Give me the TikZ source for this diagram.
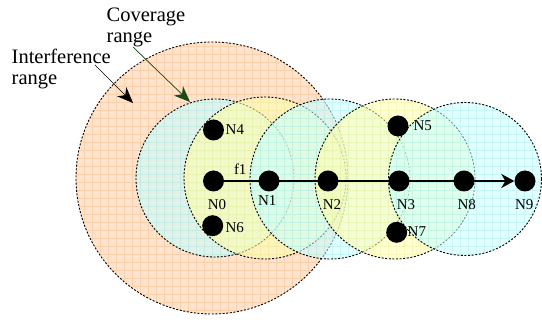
\documentclass[tikz,border=0pt]{standalone}
\usepackage{fontspec}
\setmainfont{Liberation Serif}
\usetikzlibrary{arrows.meta}
\definecolor{orangefill}{HTML}{FEE4CF}
\definecolor{orangegrid}{HTML}{FCD0AA}
\definecolor{cyanfill}{HTML}{CCFFFF}
\definecolor{cyangrid}{HTML}{A8F0F0}
\definecolor{yellowfill}{HTML}{FFFFB4}
\definecolor{yellowgrid}{HTML}{F0F098}
\definecolor{darkgreen}{HTML}{1A4A1A}
\newcommand\rangecirc[6]{%
  \fill[#3, fill opacity=#5] (#1) circle[radius=#2];
  \begin{scope}
    \clip (#1) circle[radius=#2];
    \draw[#4, line width=0.45pt, opacity=#6, step=8pt, xshift=4.3pt, yshift=-6.7pt] (-8,-8) grid (550,330);
  \end{scope}
  \draw[rangeborder] (#1) circle[radius=#2];
}
\begin{document}
\begin{tikzpicture}[x=1pt,y=-1pt,
  rangeborder/.style={draw=black, line width=0.9pt, dash pattern=on 2pt off 1.6pt},
  dot/.style={circle, fill=black, minimum size=21pt, inner sep=0pt},
  lab/.style={font=\fontsize{15}{15}\selectfont, inner sep=0pt},
  biglab/.style={font=\fontsize{20.5}{20.5}\selectfont, inner sep=0pt, align=left, anchor=north west},
  flow/.style={line width=2pt, -{Stealth[length=13pt,width=14pt,inset=4pt]}},
  pointer/.style={line width=0.7pt, -{Stealth[length=16pt,width=13pt,inset=5pt]}}
]
\useasboundingbox (0,0) rectangle (542,320);

% ranges
\coordinate (ci) at (212,178);
\coordinate (c0) at (215,178);
\coordinate (c1) at (265,178);
\coordinate (c2) at (330,179);
\coordinate (c3) at (395,179);
\coordinate (c8) at (465,179);
\rangecirc{ci}{136pt}{orangefill}{orangegrid}{1}{1}
\rangecirc{c0}{79pt}{cyanfill}{cyangrid}{0.55}{0.5}
\rangecirc{c1}{81pt}{yellowfill}{yellowgrid}{0.55}{0.5}
\rangecirc{c2}{80pt}{cyanfill}{cyangrid}{0.55}{0.5}
\rangecirc{c3}{80pt}{yellowfill}{yellowgrid}{0.55}{0.5}
\rangecirc{c8}{76.5pt}{cyanfill}{cyangrid}{0.55}{0.5}

% nodes
\node[dot] (N0) at (213.5,181) {};
\node[dot] (N1) at (269,181) {};
\node[dot] (N2) at (328,181) {};
\node[dot] (N3) at (399,181) {};
\node[dot] (N8) at (464,181) {};
\node[dot] (N9) at (525,181) {};
\node[dot] (N4) at (213.5,130) {};
\node[dot] (N5) at (398,126) {};
\node[dot] (N6) at (212.7,225.7) {};
\node[dot] (N7) at (396.7,232.3) {};

\draw[flow] (N0) -- (N9);

% labels
\node[lab, anchor=base] (lN0) at (217,209.3) {N0};
\node[lab, anchor=base] (lN1) at (267.3,205.7) {N1};
\node[lab, anchor=base] (lN2) at (332,209.3) {N2};
\node[lab, anchor=base] (lN3) at (406,209.3) {N3};
\node[lab, anchor=base] (lN8) at (466.7,209.3) {N8};
\node[lab, anchor=base] (lN9) at (524.3,210) {N9};
\node[lab, anchor=base west] (lN4) at (225.5,134.3) {N4};
\node[lab, anchor=base west] (lN5) at (413.3,130.7) {N5};
\node[lab, anchor=base west] (lN6) at (225.3,232.7) {N6};
\node[lab, anchor=base west] (lN7) at (407.5,236.7) {N7};
\node[lab, anchor=base west] (lf1) at (233.8,175) {f1};

% range labels
\node[biglab] (cov) at (106.5,7.8) {Coverage\\ range};
\node[biglab] (intf) at (11.5,49.3) {Interference\\ range};

\coordinate (covS) at (133,47);
\coordinate (covT) at (190,102);
\coordinate (intS) at (95,65);
\coordinate (intT) at (133,103);
\draw[pointer, draw=darkgreen, fill=darkgreen] (covS) -- (covT);
\draw[pointer] (intS) -- (intT);
\end{tikzpicture}
\end{document}
